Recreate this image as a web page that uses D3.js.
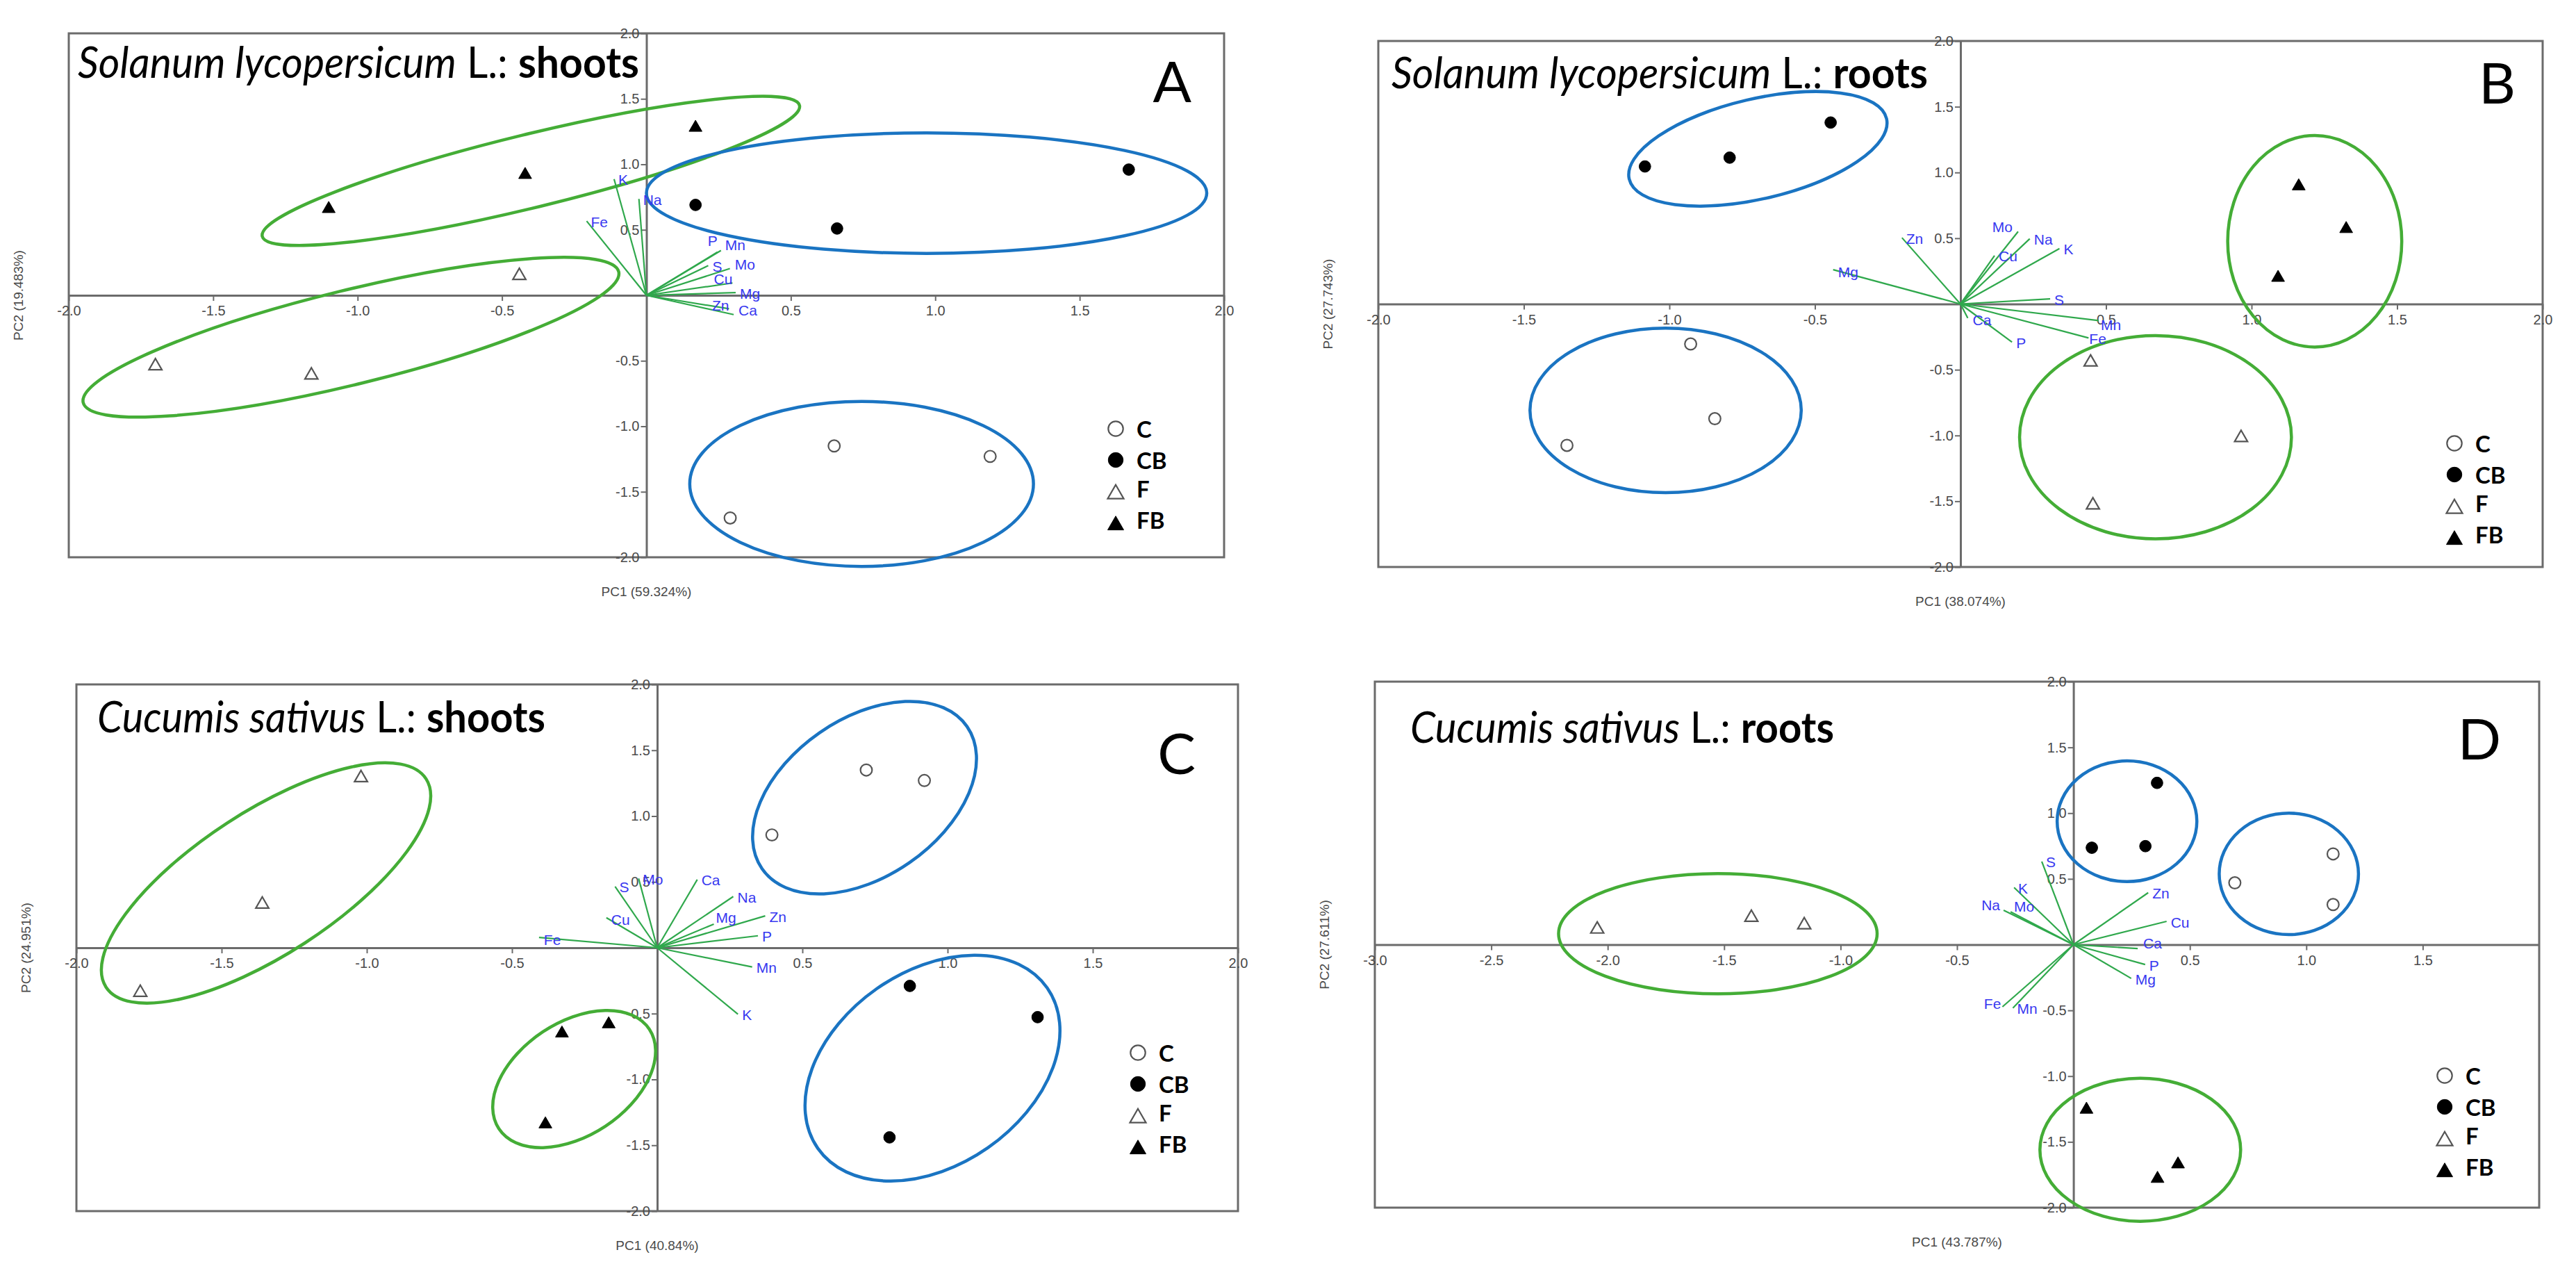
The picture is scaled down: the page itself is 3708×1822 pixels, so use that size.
<!DOCTYPE html>
<html>
<head>
<meta charset="utf-8">
<script src="https://cdn.jsdelivr.net/npm/d3@7"></script>
<style>
  html, body { margin: 0; padding: 0; background: #fff; }
  svg { display: block; }
</style>
</head>
<body>
<div id="chart"></div>
<script>
// ---- data ----
const groups = ["C", "CB", "F", "FB"];

// A: Solanum lycopersicum, shoots
const aC  = [[0.29, -1.70], [0.65, -1.15], [1.19, -1.23]];
const aCB = [[0.17, 0.69], [0.66, 0.51], [1.67, 0.96]];
const aF  = [[-1.70, -0.54], [-1.16, -0.61], [-0.44, 0.15]];
const aFB = [[-1.10, 0.66], [-0.42, 0.92], [0.17, 1.28]];
const aLoad = [["K", -0.112, 0.887], ["Na", -0.026, 0.736], ["Fe", -0.207, 0.567], ["P", 0.246, 0.33],
  ["Mn", 0.258, 0.342], ["S", 0.214, 0.227], ["Mo", 0.289, 0.204], ["Cu", 0.298, 0.094],
  ["Mg", 0.309, 0.021], ["Zn", 0.286, -0.103], ["Ca", 0.302, -0.147]];
const aEll = [
  {g: "FB", cx: -0.40, cy: 0.95, tx: 0.53, ty: 1.45, b: 0.28},
  {g: "F", cx: -1.023, cy: -0.32, tx: -0.096, ty: 0.18, b: 0.36},
  {g: "CB", cx: 0.97, cy: 0.78, tx: 1.94, ty: 0.78, b: 0.46},
  {g: "C", cx: 0.745, cy: -1.44, tx: 1.34, ty: -1.44, b: 0.63}
];

// B: Solanum lycopersicum, roots
const bC  = [[-1.352, -1.075], [-0.927, -0.304], [-0.844, -0.872]];
const bCB = [[-1.084, 1.046], [-0.793, 1.113], [-0.446, 1.38]];
const bF  = [[0.447, -0.443], [0.964, -1.017], [0.455, -1.53]];
const bFB = [[1.162, 0.896], [1.325, 0.571], [1.091, 0.2]];
const bLoad = [["Zn", -0.201, 0.504], ["Mg", -0.4375, 0.261], ["Mo", 0.198, 0.551], ["Cu", 0.117, 0.368],
  ["Na", 0.238, 0.496], ["K", 0.34, 0.421], ["S", 0.308, 0.039], ["Ca", 0.025, -0.107],
  ["P", 0.177, -0.29], ["Fe", 0.44, -0.258], ["Mn", 0.475, -0.126]];
const bEll = [
  {g: "CB", cx: -0.696, cy: 1.18, tx: -0.254, ty: 1.41, b: 0.38},
  {g: "C", cx: -1.013, cy: -0.809, tx: -0.547, ty: -0.809, b: 0.626},
  {g: "FB", cx: 1.217, cy: 0.477, tx: 1.516, ty: 0.477, b: 0.804},
  {g: "F", cx: 0.67, cy: -1.013, tx: 1.137, ty: -1.013, b: 0.773}
];

// C: Cucumis sativus, shoots
const cC  = [[0.395, 0.857], [0.72, 1.35], [0.92, 1.27]];
const cCB = [[0.87, -0.29], [1.31, -0.527], [0.80, -1.44]];
const cF  = [[-1.02, 1.29], [-1.36, 0.33], [-1.78, -0.34]];
const cFB = [[-0.328, -0.65], [-0.167, -0.58], [-0.385, -1.34]];
const cLoad = [["Fe", -0.407, 0.079], ["Cu", -0.175, 0.228], ["S", -0.145, 0.465], ["Mo", -0.064, 0.526],
  ["Ca", 0.138, 0.518], ["Na", 0.262, 0.389], ["Mg", 0.195, 0.18], ["Zn", 0.372, 0.242],
  ["P", 0.347, 0.091], ["Mn", 0.327, -0.146], ["K", 0.278, -0.505]];
const cEll = [
  {g: "F", cx: -1.347, cy: 0.492, tx: -0.796, ty: 1.283, b: 0.543},
  {g: "FB", cx: -0.286, cy: -0.997, tx: -0.027, ty: -0.619, b: 0.43},
  {g: "C", cx: 0.714, cy: 1.14, tx: 1.067, ty: 1.68, b: 0.60},
  {g: "CB", cx: 0.948, cy: -0.914, tx: 1.343, ty: -0.305, b: 0.737}
];

// D: Cucumis sativus, roots
const dC  = [[0.693, 0.47], [1.115, 0.69], [1.115, 0.305]];
const dCB = [[0.079, 0.737], [0.309, 0.749], [0.359, 1.23]];
const dF  = [[-2.045, 0.117], [-1.383, 0.206], [-1.156, 0.149]];
const dFB = [[0.056, -1.254], [0.361, -1.78], [0.449, -1.67]];
const dLoad = [["S", -0.136, 0.632], ["K", -0.255, 0.435], ["Na", -0.30, 0.262], ["Mo", -0.27, 0.25],
  ["Zn", 0.321, 0.395], ["Cu", 0.40, 0.177], ["Ca", 0.276, -0.03], ["P", 0.308, -0.151],
  ["Mg", 0.248, -0.257], ["Fe", -0.305, -0.473], ["Mn", -0.26, -0.482]];
const dEll = [
  {g: "F", cx: -1.527, cy: 0.083, tx: -0.843, ty: 0.083, b: 0.457},
  {g: "CB", cx: 0.23, cy: 0.938, tx: 0.53, ty: 0.938, b: 0.459},
  {g: "C", cx: 0.925, cy: 0.538, tx: 1.224, ty: 0.538, b: 0.462},
  {g: "FB", cx: 0.287, cy: -1.56, tx: 0.718, ty: -1.56, b: 0.544}
];

const ticks2 = [-2, -1.5, -1, -0.5, 0.5, 1, 1.5, 2];
const ticksDx = [-3, -2.5, -2, -1.5, -1, -0.5, 0.5, 1, 1.5];

const pc1 = ["PC1 (59.324%)", "PC1 (38.074%)", "PC1 (40.84%)", "PC1 (43.787%)"];
const pc2 = ["PC2 (19.483%)", "PC2 (27.743%)", "PC2 (24.951%)", "PC2 (27.611%)"];
const species = ["Solanum lycopersicum", "Solanum lycopersicum", "Cucumis sativus", "Cucumis sativus"];
const organ = ["shoots", "roots", "shoots", "roots"];
const letters = ["A", "B", "C", "D"];

// ---- layout ----
const W = 3708, H = 1822;
const panels = [
  {box: [99, 48, 1762, 802], xd: [-2, 2], xt: ticks2, pts: [aC, aCB, aF, aFB], load: aLoad, ell: aEll,
   title: [112, 112, 808], letter: [1715, 147], legend: [1606, 617],
   nudge: {P: ["end", 0, -16], Mn: ["start", 6, -8], Mo: ["start", 7, -6], Ca: ["start", 7, -6], Cu: ["end", 0, -6], Zn: ["end", 0, -5]}},
  {box: [1984, 59, 3660, 816], xd: [-2, 2], xt: ticks2, pts: [bC, bCB, bF, bFB], load: bLoad, ell: bEll,
   title: [2003, 127, 772], letter: [3621, 149], legend: [3533, 638],
   nudge: {Mo: ["end", -8, -7], Mg: ["start", 7, 3], Fe: ["start", 1, 1], Mn: ["start", 3, 6], Ca: ["start", 7, 3]}},
  {box: [110, 985, 1782, 1743], xd: [-2, 2], xt: ticks2, pts: [cC, cCB, cF, cFB], load: cLoad, ell: cEll,
   title: [140, 1054, 645], letter: [1721, 1114], legend: [1638, 1515],
   nudge: {Mg: ["start", 3, -9], Fe: ["start", 7, 3], Cu: ["start", 7, 3]}},
  {box: [1979, 981, 3655, 1738], xd: [-3, 2], xt: ticksDx, pts: [dC, dCB, dF, dFB], load: dLoad, ell: dEll,
   title: [2030, 1069, 610], letter: [3600, 1093], legend: [3519, 1548],
   nudge: {Na: ["end", -5, -7], Mo: ["start", 5, -8], Ca: ["start", 8, -8], Fe: ["end", -2, -5]}}
];

const blue = "#1a74c2", green = "#44ad36";
const ellColor = {C: blue, CB: blue, F: green, FB: green};
const frameColor = "#6b6b6b";
const sans = "'Liberation Sans', Arial, sans-serif";
const cal = "Lato, 'Open Sans', sans-serif";

const svg = d3.select("#chart").append("svg")
  .attr("width", W).attr("height", H)
  .attr("viewBox", [0, 0, W, H]);
svg.append("rect").attr("width", W).attr("height", H).attr("fill", "#fff");

function symbolFor(g, big) {
  const isTri = g === "F" || g === "FB";
  const size = isTri ? (big ? 230 : 150) : (big ? 360 : 220);
  return d3.symbol().type(isTri ? d3.symbolTriangle : d3.symbolCircle).size(size)();
}
function styleSym(sel, g) {
  const filled = g === "CB" || g === "FB";
  sel.attr("fill", filled ? "#000" : "#fff")
     .attr("stroke", filled ? "#000" : "#555")
     .attr("stroke-width", filled ? 1 : 2.2);
}

panels.forEach((p, i) => {
  const [x0, y0, x1, y1] = p.box;
  const x = d3.scaleLinear().domain(p.xd).range([x0, x1]);
  const y = d3.scaleLinear().domain([-2, 2]).range([y1, y0]);
  const g = svg.append("g");
  const ox = x(0), oy = y(0);

  // frame
  g.append("rect").attr("x", x0).attr("y", y0).attr("width", x1 - x0).attr("height", y1 - y0)
    .attr("fill", "none").attr("stroke", frameColor).attr("stroke-width", 3);

  // axes through the origin
  const xAxis = d3.axisBottom(x).tickValues(p.xt).tickSize(8).tickSizeOuter(0).tickFormat(d => d.toFixed(1));
  const yAxis = d3.axisLeft(y).tickValues(ticks2).tickSize(8).tickSizeOuter(0).tickFormat(d => d.toFixed(1));
  const gx = g.append("g").attr("transform", `translate(0,${oy})`).call(xAxis);
  const gy = g.append("g").attr("transform", `translate(${ox},0)`).call(yAxis);
  [gx, gy].forEach(a => {
    a.select(".domain").attr("stroke", frameColor).attr("stroke-width", 3);
    a.selectAll(".tick line").attr("stroke", frameColor).attr("stroke-width", 2);
    a.selectAll(".tick text").attr("fill", "#4a4a4a").attr("font-family", sans).attr("font-size", 20);
  });
  gx.selectAll(".tick text").attr("dy", "1.05em").attr("y", 8);
  gy.selectAll(".tick text").attr("x", -10);

  // ellipses
  p.ell.forEach(e => {
    const cx = x(e.cx), cy = y(e.cy), tx = x(e.tx), ty = y(e.ty);
    const a = Math.hypot(tx - cx, ty - cy);
    const ang = Math.atan2(ty - cy, tx - cx) * 180 / Math.PI;
    const b = Math.abs(y(e.b) - y(0));
    g.append("ellipse").attr("transform", `translate(${cx},${cy}) rotate(${ang})`)
      .attr("rx", a).attr("ry", b).attr("fill", "none")
      .attr("stroke", ellColor[e.g]).attr("stroke-width", 4.5);
  });

  // loadings
  g.selectAll(".ld").data(p.load).join("line")
    .attr("x1", ox).attr("y1", oy)
    .attr("x2", d => x(d[1])).attr("y2", d => y(d[2]))
    .attr("stroke", "#2fa84c").attr("stroke-width", 2.2);
  p.load.forEach(d => {
    const n = p.nudge[d[0]] || ["start", 6, 1];
    g.append("text").attr("x", x(d[1]) + n[1]).attr("y", y(d[2]) + n[2])
      .attr("text-anchor", n[0]).attr("dominant-baseline", "central")
      .attr("font-family", sans).attr("font-size", 21).attr("fill", "#3838f0")
      .text(d[0]);
  });

  // scores
  p.pts.forEach((arr, k) => {
    g.selectAll(null).data(arr).join("path")
      .attr("d", symbolFor(groups[k], false))
      .attr("transform", d => `translate(${x(d[0])},${y(d[1])})`)
      .call(styleSym, groups[k]);
  });

  // title: Calibri-like height, squeezed to the measured width
  const t = g.append("text").attr("x", p.title[0]).attr("y", p.title[1])
    .attr("font-family", cal).attr("font-size", 62).attr("fill", "#000")
    .attr("textLength", p.title[2]).attr("lengthAdjust", "spacingAndGlyphs");
  t.append("tspan").attr("font-style", "italic").text(species[i]);
  t.append("tspan").text(" L.: ");
  t.append("tspan").attr("font-weight", "bold").text(organ[i]);

  g.append("text").attr("x", p.letter[0]).attr("y", p.letter[1]).attr("text-anchor", "end")
    .attr("font-family", cal).attr("font-size", 82).attr("fill", "#000").text(letters[i]);

  // legend
  groups.forEach((gr, k) => {
    const ly = p.legend[1] + k * 45;
    g.append("path").attr("d", symbolFor(gr, true))
      .attr("transform", `translate(${p.legend[0]},${ly + (k > 1 ? 4 : 0)})`)
      .call(styleSym, gr);
    g.append("text").attr("x", p.legend[0] + 30).attr("y", ly - (k > 1 ? 4 : 0))
      .attr("dominant-baseline", "central")
      .attr("font-family", cal).attr("font-weight", "bold").attr("font-size", 33)
      .text(gr);
  });

  // axis titles
  g.append("text").attr("x", (x0 + x1) / 2).attr("y", y1 + 56).attr("text-anchor", "middle")
    .attr("font-family", sans).attr("font-size", 19).attr("fill", "#4a4a4a").text(pc1[i]);
  g.append("text").attr("transform", `translate(${x0 - 66},${(y0 + y1) / 2}) rotate(-90)`)
    .attr("text-anchor", "middle")
    .attr("font-family", sans).attr("font-size", 19).attr("fill", "#4a4a4a").text(pc2[i]);
});
</script>
</body>
</html>
